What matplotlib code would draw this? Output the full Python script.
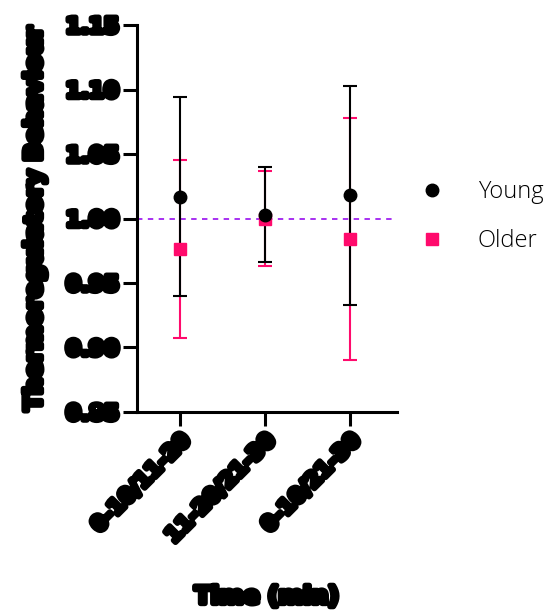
import numpy as np
import matplotlib.pyplot as plt
import matplotlib.patheffects as pe

# Групи часу та середні значення з похибками
groups = ['0-10/11-20', '11-20/21-30', '0-10/21-30']
young_mean = [1.017, 1.003, 1.018]
young_err = [0.077, 0.037, 0.085]
older_mean = [0.976, 1.000, 0.984]
older_err = [0.069, 0.037, 0.094]

pink = '#FF0A6C'
heavy = [pe.withStroke(linewidth=4, foreground='black')]

fig = plt.figure(figsize=(5.49, 6.13), dpi=100)
ax = fig.add_axes([0.2495, 0.3279, 0.4736, 0.6313])

x = np.arange(len(groups))

# Опорна лінія на рівні 1.0
ax.axhline(1.0, color='#A020F0', linestyle=(0, (3, 3)), linewidth=1.3,
           xmin=0, xmax=1.0, zorder=1, clip_on=False)

ax.errorbar(x, older_mean, yerr=older_err, fmt='none', ecolor=pink,
            elinewidth=1.5, capsize=5, capthick=1.5, zorder=2)
ax.errorbar(x, young_mean, yerr=young_err, fmt='none', ecolor='black',
            elinewidth=1.5, capsize=5, capthick=1.5, zorder=3)
ax.plot(x, older_mean, 's', color=pink, markersize=8.5, zorder=4)
ax.plot(x, young_mean, 'o', color='black', markersize=9, zorder=5)

ax.set_xlim(-0.506, 2.55)
ax.set_ylim(0.85, 1.15)
ax.set_yticks([0.85, 0.90, 0.95, 1.00, 1.05, 1.10, 1.15])
ax.set_yticklabels(['0.85', '0.90', '0.95', '1.00', '1.05', '1.10', '1.15'])
ax.set_xticks(x)
ax.set_xticklabels(groups, rotation=45, ha='right', rotation_mode='anchor')

for s in ['top', 'right']:
    ax.spines[s].set_visible(False)
for s in ['left', 'bottom']:
    ax.spines[s].set_linewidth(2.2)
ax.tick_params(axis='both', width=2.2, length=10, labelsize=15.5, pad=3)

for lab in ax.get_yticklabels() + ax.get_xticklabels():
    lab.set_fontweight('bold')
    lab.set_path_effects(heavy)

ax.set_ylabel('Thermoregulatory Behaviour', fontsize=17, fontweight='bold',
              labelpad=14, path_effects=heavy)
ax.set_xlabel('Time (min)', fontsize=17, fontweight='bold', labelpad=27,
              path_effects=heavy)

# Легенда праворуч від графіка
h1, = ax.plot([], [], 'o', color='black', markersize=9)
h2, = ax.plot([], [], 's', color=pink, markersize=8.5)
leg = fig.legend([h1, h2], ['Young', 'Older'], loc='center left',
                 bbox_to_anchor=(0.7654, 0.647), frameon=False,
                 borderaxespad=0, borderpad=0, handlelength=1.0,
                 handletextpad=1.44, labelspacing=1.05,
                 prop={'family': 'Open Sans', 'size': 17, 'weight': 'light'})

fig.savefig('out.png', dpi=100)
